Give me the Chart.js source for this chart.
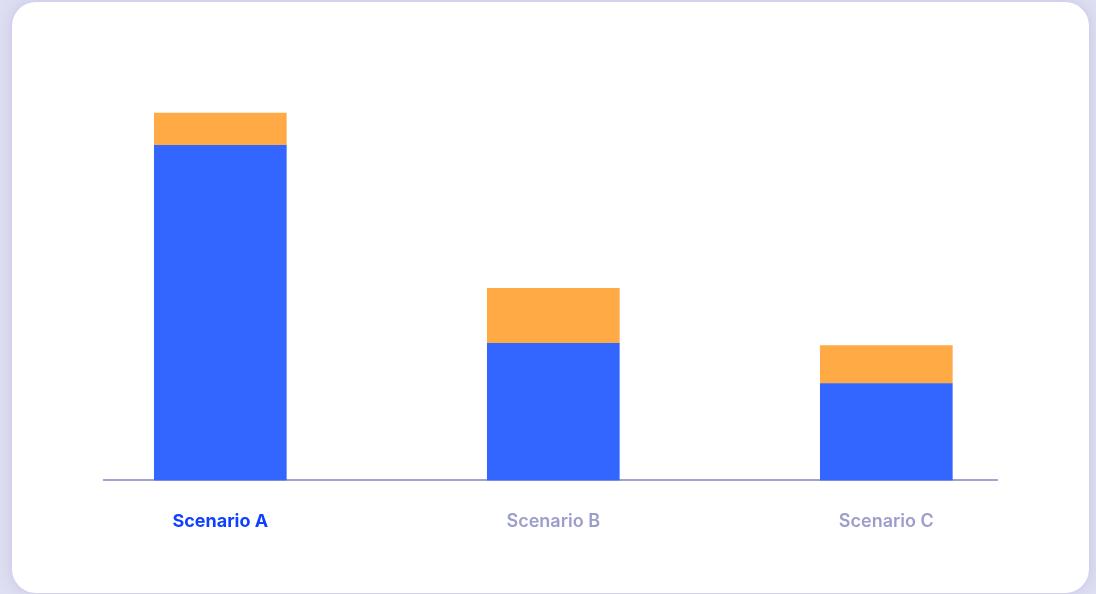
<!DOCTYPE html>
<html lang="en">

<head>
    <meta charset="UTF-8" />
    <meta name="viewport" content="width=device-width, initial-scale=1.0" />
    <title>Scenarios</title>
    <script src="https://cdn.jsdelivr.net/npm/chart.js@4.4.1/dist/chart.umd.min.js"></script>
    <style>
        html,
        body {
            margin: 0;
            padding: 0;
            width: 1096px;
            height: 594px;
            overflow: hidden;
            background: #dfdff2;
            font-family: Inter, "Noto Sans", sans-serif;
        }

        .card {
            position: absolute;
            left: 12px;
            top: 2px;
            width: 1077px;
            height: 591px;
            background: #ffffff;
            border-radius: 24px;
            box-shadow: 0 0 14px rgba(160, 160, 215, 0.45);
        }

        .chart-box {
            position: absolute;
            left: 0;
            top: 0;
            width: 1096px;
            height: 594px;
        }
    </style>
</head>

<body>
    <div class="card"></div>
    <div class="chart-box">
        <canvas id="scenarioChart"></canvas>
    </div>

    <script>
        // scenario names and where each one sits on the x axis
        const scenarios = ["Scenario A", "Scenario B", "Scenario C"];
        const scenarioPos = [0, 1, 2];

        // stacked values (blue base, orange on top)
        const baseValues = [76.1, 31.1, 22.0];
        const topValues = [7.3, 12.5, 8.6];

        const activeScenario = 0;

        const ctx = document.getElementById("scenarioChart");
        const myChart = new Chart(ctx, {
            type: "bar",
            data: {
                datasets: [
                    {
                        label: "Base",
                        data: scenarioPos.map((x, i) => ({ x: x, y: baseValues[i] })),
                        backgroundColor: "#3366ff",
                        barThickness: 132,
                        borderWidth: 0,
                    },
                    {
                        label: "Extra",
                        data: scenarioPos.map((x, i) => ({ x: x, y: topValues[i] })),
                        backgroundColor: "#ffaa44",
                        barThickness: 132,
                        borderWidth: 0,
                    },
                ],
            },
            options: {
                responsive: true,
                maintainAspectRatio: false,
                animation: false,
                layout: {
                    padding: { left: 104, right: 99, top: 40, bottom: 32 },
                },
                plugins: {
                    legend: { display: false },
                    tooltip: { enabled: false },
                },
                scales: {
                    x: {
                        type: "linear",
                        stacked: true,
                        offset: false,
                        bounds: "data",
                        min: -0.3493,
                        max: 2.3324,
                        afterBuildTicks: (scale) => {
                            scale.ticks = scenarioPos.map((v) => ({ value: v }));
                        },
                        grid: { display: false, drawTicks: false, offset: false },
                        border: { display: true, color: "#a3a3d0", width: 2 },
                        ticks: {
                            padding: 30,
                            autoSkip: false,
                            maxRotation: 0,
                            callback: (value) => scenarios[value],
                            color: (c) => (c.index === activeScenario ? "#0f40ff" : "#9b9dcb"),
                            font: (c) => ({
                                family: "Inter",
                                size: 18,
                                weight: c.index === activeScenario ? "700" : "600",
                            }),
                        },
                    },
                    y: {
                        display: false,
                        stacked: true,
                        min: 0,
                        max: 100,
                    },
                },
            },
        });
    </script>
</body>

</html>
